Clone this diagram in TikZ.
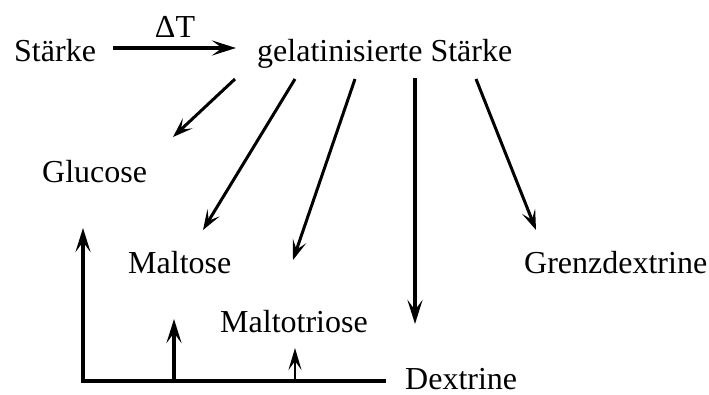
\documentclass[tikz,border=0pt]{standalone}
\usepackage{fontspec}
\setmainfont{Liberation Serif}
\usetikzlibrary{arrows.meta}
\begin{document}
\begin{tikzpicture}[x=1pt,y=-1pt,
  lbl/.style={anchor=base west,inner sep=0pt,font=\fontsize{32}{38}\selectfont},
  conn/.style={line width=3pt,-{Stealth[length=20pt,width=14pt,inset=9pt]}},
  thick conn/.style={line width=4pt,-{Stealth[length=24pt,width=15pt,inset=10pt]}},
  thin conn/.style={line width=2.5pt,-{Stealth[length=22pt,width=13pt,inset=9pt]}}]
\useasboundingbox (0,0) rectangle (709,394);
\node[lbl] (st) at (14,61) {Stärke};
\node[lbl] (gs) at (257,61) {gelatinisierte Stärke};
\node[lbl,anchor=base] (dt) at (175,37) {ΔT};
\node[lbl] (glc) at (42,182) {Glucose};
\node[lbl] (mal) at (128,273) {Maltose};
\node[lbl] (mtr) at (220,332) {Maltotriose};
\node[lbl] (grz) at (524,273) {Grenzdextrine};
\node[lbl] (dex) at (405,389) {Dextrine};
% coordinates
\coordinate (a0) at (113,48); \coordinate (a1) at (236,48);
\coordinate (g1) at (235,79); \coordinate (t1) at (173,137);
\coordinate (g2) at (295,79); \coordinate (t2) at (203,230);
\coordinate (g3) at (355,79); \coordinate (t3) at (293,260);
\coordinate (g4) at (415,78); \coordinate (t4) at (415,324);
\coordinate (g5) at (476,79); \coordinate (t5) at (536,230);
\coordinate (d0) at (386,381); \coordinate (d1) at (83,381);
\coordinate (u1) at (83,228);
\coordinate (m0) at (174,381); \coordinate (m1) at (174,319);
\coordinate (r0) at (295,381); \coordinate (r1) at (295,348);
\draw[thick conn] (a0) -- (a1);
\draw[conn] (g1) -- (t1);
\draw[conn] (g2) -- (t2);
\draw[conn] (g3) -- (t3);
\draw[thick conn] (g4) -- (t4);
\draw[conn] (g5) -- (t5);
\draw[thick conn] (d0) -- (d1) -- (u1);
\draw[thick conn] (m0) -- (m1);
\draw[thin conn] (r0) -- (r1);
\end{tikzpicture}
\end{document}
